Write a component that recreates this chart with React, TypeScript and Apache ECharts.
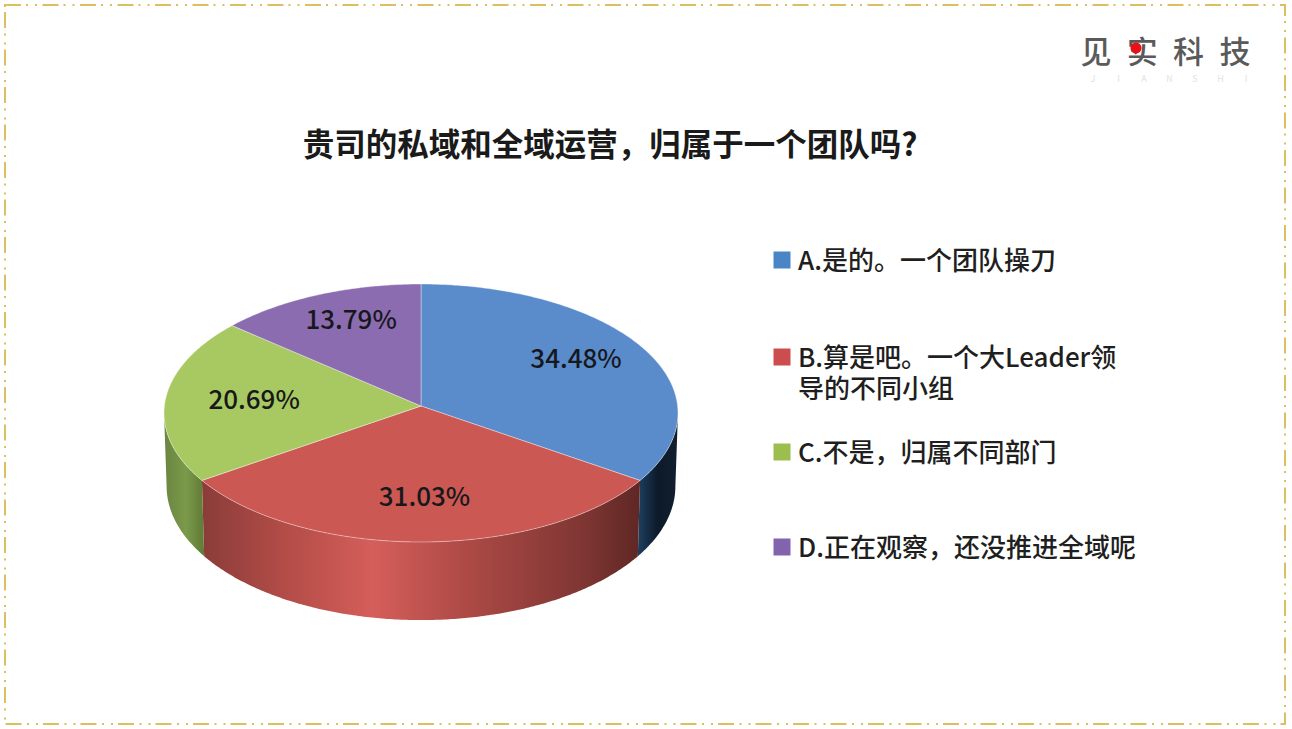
import React, { useEffect, useRef } from "react";
import * as echarts from "echarts";

const titleText = "贵司的私域和全域运营，归属于一个团队吗?";
const logoChars = ["见", "实", "科", "技"];
const logoSub = ["J", "I", "A", "N", "S", "H", "I"];
const categories = [
  "A.是的。一个团队操刀",
  "B.算是吧。一个大Leader领\n导的不同小组",
  "C.不是，归属不同部门",
  "D.正在观察，还没推进全域呢",
];
const values = [34.48, 31.03, 20.69, 13.79];
const valueLabels = ["34.48%", "31.03%", "20.69%", "13.79%"];

const topColors = ["#5a8bcb", "#cb5852", "#a8c961", "#8c6cb0"];
const legendColors = ["#4a85c5", "#cc4d4d", "#9bbe4f", "#8263ae"];
const sideStops: [number, string][][] = [
  [[0, "#1f3f60"], [0.5, "#0c1a29"], [1, "#111f2e"]],
  [[0, "#8a3c39"], [0.2, "#b54d48"], [0.39, "#d45e5a"], [0.6, "#ae4a46"], [0.87, "#7f3633"], [1, "#5e2725"]],
  [[0, "#6a8540"], [0.55, "#7b9a4a"], [1, "#5f7a35"]],
  [[0, "#5a4570"], [1, "#5a4570"]],
];
const labelNudge = [[3.5, -9], [3.5, -2], [7, -4], [1, -12]];

const CX = 421;
const K = 0.0543;
const TOP = { a: 256.6, b: 128.6, y0: 406 };
const BOTTOM = { a: 254, b: 133.4, y0: 479 };
const SIDE_FROM = (93.1 * Math.PI) / 180;
const SIDE_TO = (266.9 * Math.PI) / 180;

function project(theta: number, r: number, p: { a: number; b: number; y0: number }) {
  const u = Math.sin(theta) * r;
  const v = Math.cos(theta) * r;
  const d = 1 + K * v;
  return [CX + (p.a * u) / d, p.y0 - (p.b * v) / d];
}

function arc(t0: number, t1: number, p: { a: number; b: number; y0: number }) {
  const n = Math.max(2, Math.ceil(Math.abs(t1 - t0) / 0.01));
  const pts: number[][] = [];
  for (let i = 0; i <= n; i++) pts.push(project(t0 + ((t1 - t0) * i) / n, 1, p));
  return pts;
}

const total = values.reduce((s, x) => s + x, 0);

function renderSlice(params: any, api: any) {
  const i = params.dataIndex;
  const before = values.slice(0, i).reduce((s, x) => s + x, 0);
  const t0 = (before / total) * Math.PI * 2;
  const t1 = ((before + api.value(0)) / total) * Math.PI * 2;
  const children: any[] = [];
  const s0 = Math.max(t0, SIDE_FROM);
  const s1 = Math.min(t1, SIDE_TO);
  if (s1 > s0) {
    children.push({
      type: "polygon",
      shape: { points: [...arc(s0, s1, TOP), ...arc(s1, s0, BOTTOM)] },
      style: {
        fill: new echarts.graphic.LinearGradient(
          0, 0, 1, 0,
          sideStops[i].map(([offset, color]) => ({ offset, color }))
        ),
      },
    });
  }
  children.push({
    type: "polygon",
    shape: { points: [[CX, TOP.y0], ...arc(t0, t1, TOP)] },
    style: { fill: topColors[i], stroke: "rgba(255,255,255,0.38)", lineWidth: 1 },
  });
  const [lx, ly] = project((t0 + t1) / 2, 0.68, TOP);
  children.push({
    type: "text",
    style: {
      text: valueLabels[i],
      x: lx + labelNudge[i][0],
      y: ly + labelNudge[i][1],
      align: "center",
      verticalAlign: "middle",
      fontFamily: "'Noto Sans CJK SC'",
      fontSize: 26,
      fontWeight: 500,
      fill: "#17181c",
    },
  });
  return { type: "group", children };
}

const legendRowY = [260, 357, 452, 547];

export default function App() {
  const ref = useRef<HTMLDivElement>(null);
  useEffect(() => {
    const chart = echarts.init(ref.current!, undefined, { renderer: "svg" });
    const cjk = "'Noto Sans CJK SC'";
    const graphic: any[] = [
      {
        type: "rect",
        shape: { x: 5, y: 5, width: 1280, height: 719 },
        style: { fill: "none", stroke: "#dcbf5f", lineWidth: 2, lineDash: [16, 5, 2, 7, 2, 5.5] },
      },
      {
        type: "text",
        style: {
          text: titleText, x: 610, y: 142, align: "center", verticalAlign: "middle",
          fontFamily: cjk, fontSize: 31.5, fontWeight: 700, fill: "#1a1a1a",
        },
      },
      ...logoChars.map((c, i) => ({
        type: "text",
        style: {
          text: c, x: 1096 + i * 46.3, y: 49, align: "center", verticalAlign: "middle",
          fontFamily: cjk, fontSize: 31, lineHeight: 31, fontWeight: 500, fill: "#5a5a5a",
        },
      })),
      { type: "circle", shape: { cx: 1136, cy: 48, r: 5.5 }, style: { fill: "#e8101a" } },
      ...logoSub.map((c, i) => ({
        type: "text",
        style: {
          text: c, x: 1093 + i * 25.5, y: 78, align: "center", verticalAlign: "middle",
          fontFamily: cjk, fontSize: 9, lineHeight: 9, fill: "#e2e2e2",
        },
      })),
      ...categories.flatMap((name, i) => [
        {
          type: "rect",
          shape: { x: 773.5, y: legendRowY[i] - 8.5, width: 17, height: 17 },
          style: { fill: legendColors[i] },
        },
        {
          type: "text",
          style: {
            text: name, x: 798, y: legendRowY[i] - 17.5, align: "left", verticalAlign: "top",
            fontFamily: cjk, fontSize: 26, fontWeight: 500, lineHeight: 31, fill: "#1f1f1f",
          },
        },
      ]),
    ];
    chart.setOption({
      animation: false,
      backgroundColor: "#ffffff",
      graphic,
      series: [
        {
          type: "custom",
          coordinateSystem: "none",
          silent: true,
          renderItem: renderSlice,
          data: values.map((v, i) => ({ name: categories[i], value: [v] })),
        },
      ],
    });
    return () => chart.dispose();
  }, []);
  return <div ref={ref} style={{ position: "fixed", left: 0, top: 0, width: 1292, height: 729 }} />;
}
